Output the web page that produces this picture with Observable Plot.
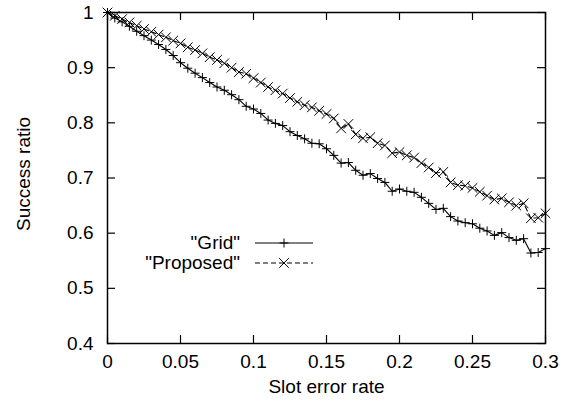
<!DOCTYPE html>
<html>
<head>
<meta charset="utf-8">
<script src="https://cdn.jsdelivr.net/npm/d3@7"></script>
<script src="https://cdn.jsdelivr.net/npm/@observablehq/plot@0.6"></script>
<style>
  html, body { margin: 0; padding: 0; background: #fff; }
  #chart svg { display: block; }
</style>
</head>
<body>
<div id="chart"></div>
<script>
// ---- data ----
const slotErrorRate = [
  0, 0.005, 0.01, 0.015, 0.02, 0.025, 0.03, 0.035, 0.04, 0.045,
  0.05, 0.055, 0.06, 0.065, 0.07, 0.075, 0.08, 0.085, 0.09, 0.095,
  0.1, 0.105, 0.11, 0.115, 0.12, 0.125, 0.13, 0.135, 0.14, 0.145,
  0.15, 0.155, 0.16, 0.165, 0.17, 0.175, 0.18, 0.185, 0.19, 0.195,
  0.2, 0.205, 0.21, 0.215, 0.22, 0.225, 0.23, 0.235, 0.24, 0.245,
  0.25, 0.255, 0.26, 0.265, 0.27, 0.275, 0.28, 0.285, 0.29, 0.295, 0.3
];
const gridRatio = [
  1.0, 0.99, 0.983, 0.975, 0.966, 0.958, 0.95, 0.942, 0.933, 0.922,
  0.909, 0.899, 0.89, 0.882, 0.873, 0.865, 0.859, 0.851, 0.842, 0.83,
  0.825, 0.817, 0.805, 0.799, 0.795, 0.784, 0.777, 0.771, 0.763, 0.762,
  0.753, 0.741, 0.727, 0.728, 0.714, 0.705, 0.708, 0.699, 0.692, 0.676,
  0.68, 0.676, 0.674, 0.665, 0.654, 0.643, 0.645, 0.63, 0.622, 0.619,
  0.617, 0.609, 0.604, 0.596, 0.601, 0.592, 0.587, 0.59, 0.564, 0.565, 0.572
];
const proposedRatio = [
  1.0, 0.994, 0.988, 0.982, 0.976, 0.97, 0.965, 0.96, 0.955, 0.949,
  0.944, 0.937, 0.932, 0.926, 0.919, 0.914, 0.908, 0.9, 0.892, 0.889,
  0.881, 0.873, 0.865, 0.859, 0.853, 0.845, 0.838, 0.832, 0.828, 0.822,
  0.816, 0.808, 0.79, 0.798, 0.779, 0.772, 0.774, 0.763, 0.759, 0.745,
  0.747, 0.741, 0.737, 0.727, 0.719, 0.709, 0.711, 0.692, 0.687, 0.686,
  0.682, 0.675, 0.668, 0.661, 0.663, 0.656, 0.65, 0.654, 0.627, 0.628, 0.636
];
const xTicks = [0, 0.05, 0.1, 0.15, 0.2, 0.25, 0.3];
const yTicks = [0.4, 0.5, 0.6, 0.7, 0.8, 0.9, 1];
const legendLabels = ['"Grid"', '"Proposed"'];
const xLabel = "Slot error rate";
const yLabel = "Success ratio";

// ---- layout ----
const W = 575, H = 408;
const mL = 107, mR = 30, mT = 12, mB = 65;
const frameW = W - mL - mR, frameH = H - mT - mB;
const tickLen = 8;
const FONT = "'Liberation Sans', Arial, Helvetica, sans-serif";

const plusSym = {draw(c) { const r = 4.5; c.moveTo(-r, 0); c.lineTo(r, 0); c.moveTo(0, -r); c.lineTo(0, r); }};
const timesSym = {draw(c) { const r = 4.8; c.moveTo(-r, -r); c.lineTo(r, r); c.moveTo(-r, r); c.lineTo(r, -r); }};

const rows = slotErrorRate.map((x, i) => ({x, grid: gridRatio[i], proposed: proposedRatio[i]}));

const plot = Plot.plot({
  width: W, height: H,
  marginLeft: mL, marginRight: mR, marginTop: mT, marginBottom: mB,
  style: {fontFamily: FONT, fontSize: "19px", background: "#fff", color: "#000"},
  x: {domain: [0, 0.3], axis: null},
  y: {domain: [0.4, 1], axis: null},
  marks: [
    // inward ticks on all four sides
    Plot.tickX(xTicks, {x: d => d, insetTop: frameH - tickLen, stroke: "#000", strokeWidth: 1.2}),
    Plot.tickX(xTicks, {x: d => d, insetBottom: frameH - tickLen, stroke: "#000", strokeWidth: 1.2}),
    Plot.tickY(yTicks, {y: d => d, insetRight: frameW - tickLen, stroke: "#000", strokeWidth: 1.2}),
    Plot.tickY(yTicks, {y: d => d, insetLeft: frameW - tickLen, stroke: "#000", strokeWidth: 1.2}),
    Plot.axisX(xTicks, {tickSize: 0, tickPadding: 11, tickFormat: d => String(d), label: null, fontSize: 19}),
    Plot.axisY(yTicks, {tickSize: 0, tickPadding: 14, tickFormat: d => String(d), label: null, fontSize: 19}),
    // data
    Plot.line(rows, {x: "x", y: "grid", stroke: "#000", strokeWidth: 1.1}),
    Plot.line(rows, {x: "x", y: "proposed", stroke: "#000", strokeWidth: 1.1, strokeDasharray: "5,3"}),
    Plot.dot(rows, {x: "x", y: "grid", symbol: plusSym, fill: "none", stroke: "#000", strokeWidth: 1}),
    Plot.dot(rows, {x: "x", y: "proposed", symbol: timesSym, fill: "none", stroke: "#000", strokeWidth: 1}),
    Plot.frame({stroke: "#000", strokeWidth: 1.5}),
    // axis titles
    Plot.text([xLabel], {frameAnchor: "bottom", dy: 43, lineAnchor: "middle", textAnchor: "middle", text: d => d, fontSize: 19, fill: "#000"}),
    Plot.text([yLabel], {frameAnchor: "left", dx: -84, dy: -4, rotate: -90, lineAnchor: "middle", textAnchor: "middle", text: d => d, fontSize: 19, fill: "#000"})
  ]
});

// legend (gnuplot style, inside the plot area)
const svg = d3.select(plot);
const lg = svg.append("g").attr("font-family", FONT).attr("font-size", 19);
const legendX = 240, legendY = 243, legendStep = 20, lineX1 = 255, lineX2 = 313;
legendLabels.forEach((label, i) => {
  const y = legendY + i * legendStep;
  lg.append("text").attr("x", legendX).attr("y", y).attr("dy", "0.32em")
    .attr("text-anchor", "end").attr("fill", "#000").text(label);
  lg.append("line").attr("x1", lineX1).attr("x2", lineX2).attr("y1", y).attr("y2", y)
    .attr("stroke", "#000").attr("stroke-width", 1)
    .attr("stroke-dasharray", i === 1 ? "5,3" : null);
  const p = d3.path();
  (i === 0 ? plusSym : timesSym).draw(p);
  lg.append("path").attr("d", p.toString())
    .attr("transform", `translate(${(lineX1 + lineX2) / 2},${y})`)
    .attr("fill", "none").attr("stroke", "#000").attr("stroke-width", 1);
});

document.getElementById("chart").appendChild(plot);
</script>
</body>
</html>
